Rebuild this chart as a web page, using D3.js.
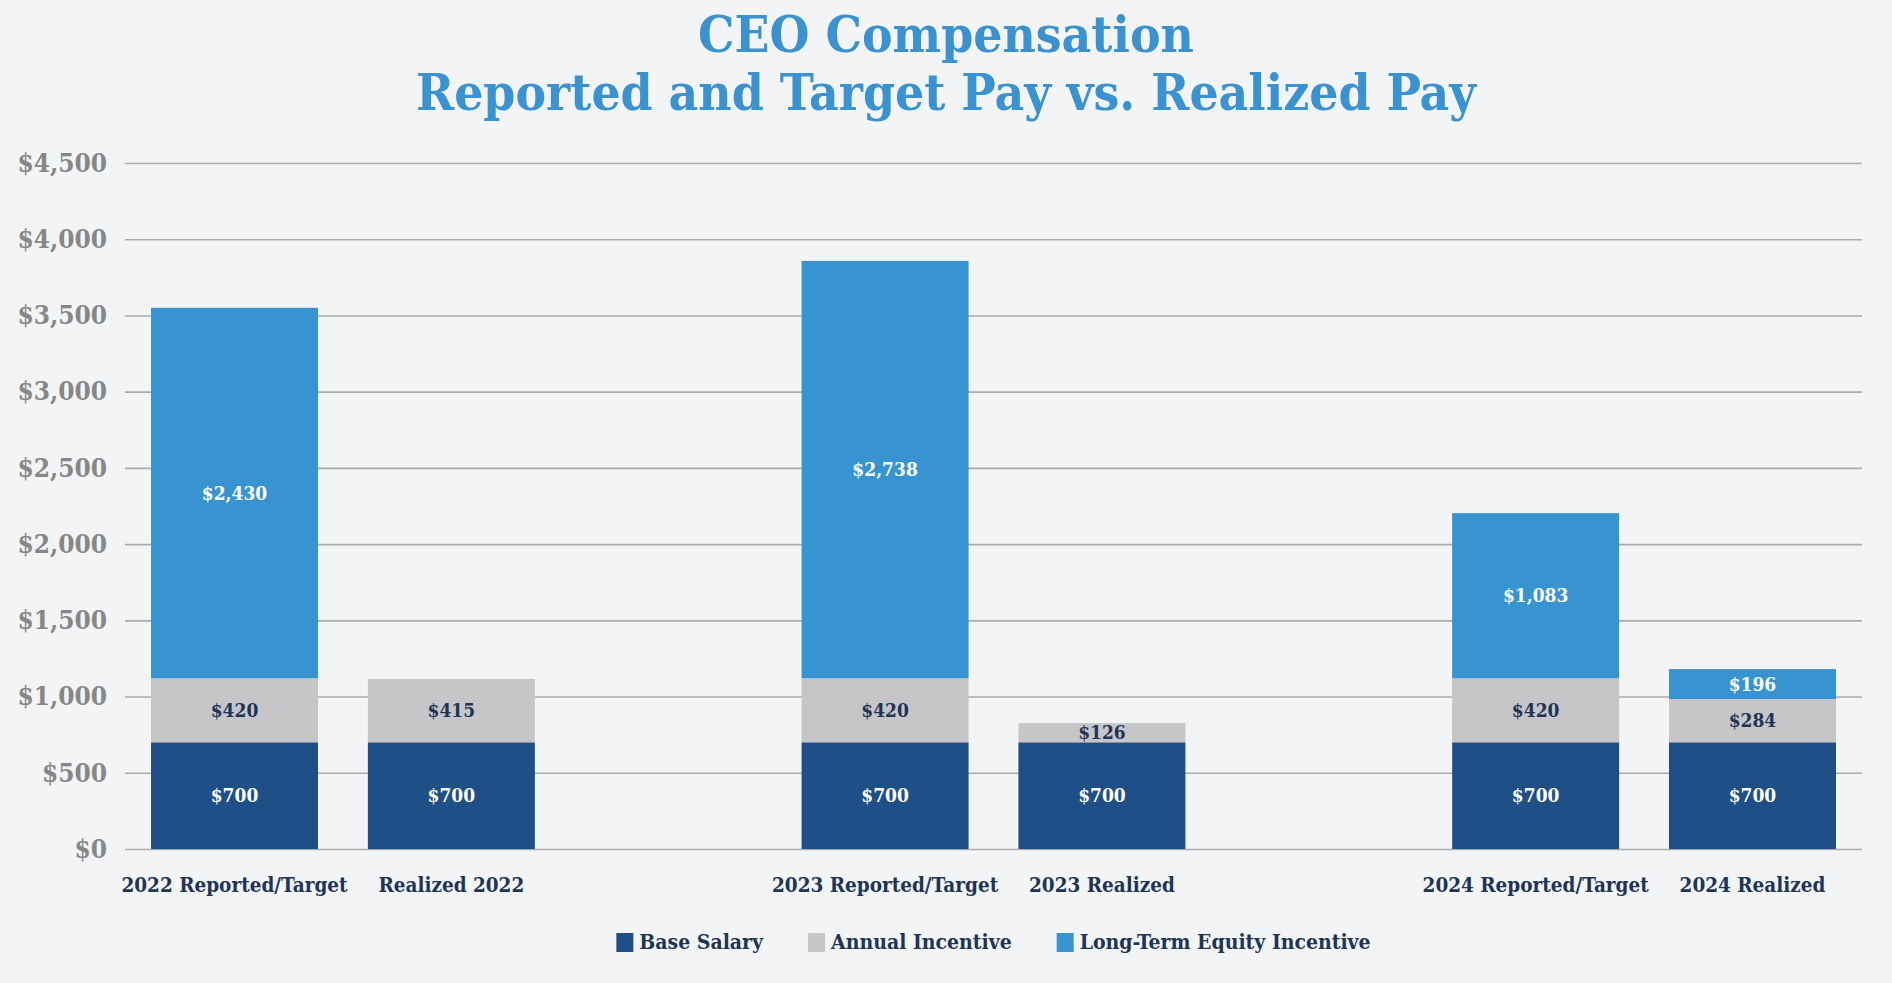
<!DOCTYPE html>
<html>
<head>
<meta charset="utf-8">
<title>CEO Compensation</title>
<script src="https://cdn.jsdelivr.net/npm/d3@7"></script>
<style>
  body { margin: 0; background: #f2f4f6; }
  svg { display: block; }
  text { font-family: "DejaVu Serif Condensed", "DejaVu Serif", serif; font-stretch: condensed; font-weight: bold; }
  .title { fill: #3a93d0; font-size: 51px; }
  .grid line { stroke: #ababab; stroke-width: 1.6px; }
  .grid path { display: none; }
  .grid text { fill: #858789; font-size: 26px; }
  .cat { fill: #1e3557; font-size: 20.5px; }
  .val { font-size: 19px; }
  .legend text { fill: #1e3557; font-size: 21px; }
</style>
</head>
<body>
<svg id="chart" width="1892" height="983"></svg>
<script>
  // data
  const categories = ["2022 Reported/Target", "Realized 2022", "2023 Reported/Target", "2023 Realized", "2024 Reported/Target", "2024 Realized"];
  const slots = ["2022 Reported/Target", "Realized 2022", "gap1", "2023 Reported/Target", "2023 Realized", "gap2", "2024 Reported/Target", "2024 Realized"];
  const seriesNames = ["Base Salary", "Annual Incentive", "Long-Term Equity Incentive"];
  const baseSalary = [700, 700, 700, 700, 700, 700];
  const annualIncentive = [420, 415, 420, 126, 420, 284];
  const longTermEquity = [2430, 0, 2738, 0, 1083, 196];
  const yTicks = [0, 500, 1000, 1500, 2000, 2500, 3000, 3500, 4000, 4500];

  const colors = ["#1f4f87", "#c6c6c8", "#3794d1"];
  const labelColors = ["#ffffff", "#1e3557", "#ffffff"];

  const svg = d3.select("#chart");
  const margin = { top: 163, right: 30, bottom: 134, left: 125 };
  const width = 1892, height = 983;

  const rows = categories.map((c, i) => ({
    cat: c,
    "Base Salary": baseSalary[i],
    "Annual Incentive": annualIncentive[i],
    "Long-Term Equity Incentive": longTermEquity[i]
  }));
  const stack = d3.stack().keys(seriesNames)(rows);

  const x = d3.scaleBand().domain(slots)
    .range([margin.left, width - margin.right])
    .paddingInner(0.23).paddingOuter(0.12);
  const y = d3.scaleLinear().domain([0, 4500]).range([height - margin.bottom, margin.top]);

  // title
  svg.append("text").attr("class", "title").attr("x", width / 2).attr("y", 52)
    .attr("text-anchor", "middle").text("CEO Compensation");
  svg.append("text").attr("class", "title").attr("x", width / 2).attr("y", 110)
    .attr("text-anchor", "middle").text("Reported and Target Pay vs. Realized Pay");

  // gridlines + y labels
  svg.append("g").attr("class", "grid")
    .attr("transform", "translate(" + margin.left + ",0)")
    .call(d3.axisLeft(y).tickValues(yTicks)
      .tickSize(-(width - margin.left - margin.right))
      .tickPadding(18)
      .tickFormat(d3.format("$,")));

  // bars
  const layer = svg.selectAll("g.layer").data(stack).join("g")
    .attr("class", "layer").attr("fill", (d, i) => colors[i]);

  layer.selectAll("rect").data(d => d.filter(s => s[1] - s[0] > 0)).join("rect")
    .attr("x", d => x(d.data.cat))
    .attr("width", x.bandwidth())
    .attr("y", d => y(d[1]))
    .attr("height", d => y(d[0]) - y(d[1]));

  // value labels
  stack.forEach((s, i) => {
    svg.append("g").selectAll("text").data(s.filter(d => d[1] - d[0] > 0)).join("text")
      .attr("class", "val")
      .attr("fill", labelColors[i])
      .attr("x", d => x(d.data.cat) + x.bandwidth() / 2)
      .attr("y", d => (y(d[0]) + y(d[1])) / 2)
      .attr("dy", "0.35em")
      .attr("text-anchor", "middle")
      .text(d => d3.format("$,")(d[1] - d[0]));
  });

  // category labels
  svg.append("g").selectAll("text").data(categories).join("text")
    .attr("class", "cat")
    .attr("x", d => x(d) + x.bandwidth() / 2)
    .attr("y", 892)
    .attr("text-anchor", "middle")
    .text(d => d);

  // legend
  const legend = svg.append("g").attr("class", "legend");
  let lx = 0;
  seriesNames.forEach((name, i) => {
    const g = legend.append("g").attr("transform", "translate(" + lx + ",0)");
    g.append("rect").attr("x", 0).attr("y", -9).attr("width", 17).attr("height", 19).attr("fill", colors[i]);
    const t = g.append("text").attr("x", 23).attr("y", 0).attr("dy", "0.35em").text(name);
    lx += 23 + t.node().getComputedTextLength() + 45;
  });
  const legW = lx - 45;
  legend.attr("transform", "translate(" + ((margin.left + width - margin.right) / 2 - legW / 2) + ",942)");
</script>
</body>
</html>
